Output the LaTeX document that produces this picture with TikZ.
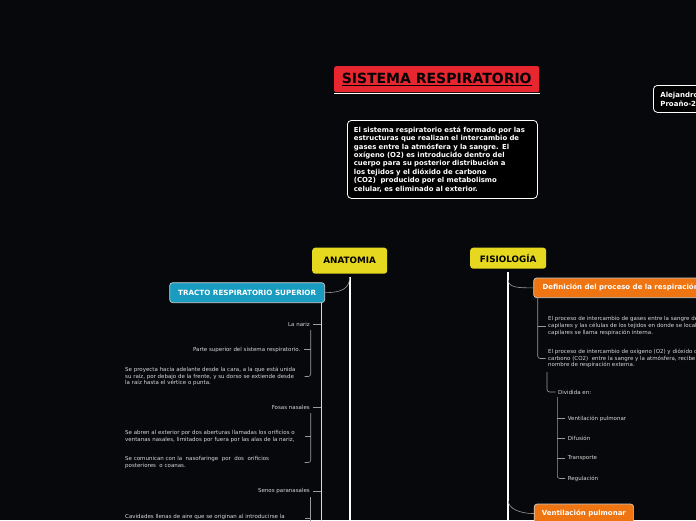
\documentclass[tikz,border=0pt]{standalone}
\usepackage{fontspec}
\setmainfont{DejaVu Sans}
\usetikzlibrary{calc}
\definecolor{bg}{HTML}{07080B}
\definecolor{titlered}{HTML}{E8262F}
\definecolor{topicyellow}{HTML}{E6D81E}
\definecolor{tractocyan}{HTML}{1A9CC0}
\definecolor{fisorange}{HTML}{EE7511}
\definecolor{linegrey}{HTML}{9A9A9A}
\definecolor{txtgrey}{HTML}{D8D8D8}
\begin{document}
\begin{tikzpicture}[x=1pt,y=-1pt,
  mainline/.style={draw=white, line width=2.2pt},
  midline/.style={draw=white!85!black, line width=0.9pt},
  subline/.style={draw=linegrey, line width=0.6pt},
  smalltxt/.style={font=\fontsize{5.5}{6.7}\selectfont, text=txtgrey, inner sep=0pt, align=left},
  topicbox/.style={fill=topicyellow, rounded corners=3pt, inner sep=0pt, font=\bfseries\fontsize{8.8}{10}\selectfont, text=black, anchor=north west},
  subbox/.style={draw=white!80!black, line width=0.7pt, rounded corners=3pt, inner ysep=0pt, text=white, anchor=north west},
  darkbox/.style={draw=white, line width=0.8pt, fill=black, rounded corners=4pt, anchor=north west, align=left, text=white, inner ysep=0pt},
]
\useasboundingbox (0,0) rectangle (696,520);
\fill[bg] (0,0) rectangle (696,520);
\clip (0,0) rectangle (696,520);
\coordinate (bottom) at (0,530);

% title
\node[fill=titlered, rounded corners=2pt, minimum width=205pt, minimum height=26pt, inner sep=0pt, anchor=north west, font=\bfseries\fontsize{14}{16}\selectfont] (title) at (334,66) {\underline{SISTEMA RESPIRATORIO}};
\draw[white, line width=1pt] ([yshift=-1.5pt]title.south west) -- ([yshift=-1.5pt,xshift=1pt]title.south east);

% description
\node[darkbox, minimum width=190pt, minimum height=78pt, text width=177pt, inner xsep=6.5pt, font=\bfseries\fontsize{6.9}{8.4}\selectfont] (desc) at (347,120) {El sistema respiratorio está formado por las\\estructuras que realizan el intercambio de\\gases entre la atmósfera y la sangre. El\\oxígeno (O2) es introducido dentro del\\\makebox[162pt][s]{cuerpo para su posterior distribución a}\\\makebox[153pt][s]{los tejidos y el dióxido de carbono}\\(CO2)\ \ producido por el metabolismo\\celular, es eliminado al exterior.};

% author
\node[darkbox, minimum width=70pt, minimum height=27pt, text width=56pt, inner xsep=7pt, font=\bfseries\fontsize{7}{9}\selectfont] (autor) at (653,85) {Alejandro\\Proaño-2};

% topics
\node[topicbox, minimum width=75pt, minimum height=26pt] (ana) at (312,247.5) {ANATOMIA};
\node[topicbox, minimum width=76pt, minimum height=21pt] (fis) at (470,247.5) {FISIOLOGÍA};
\draw[mainline] ([yshift=-3pt]ana.south) -- (ana.south |- bottom);
\draw[mainline] ([yshift=-3pt]fis.south) -- (fis.south |- bottom);

% ---------------- ANATOMIA branch
\node[subbox, fill=tractocyan, minimum width=155pt, minimum height=20pt, inner xsep=0pt, font=\bfseries\fontsize{7.2}{8}\selectfont] (tracto) at (169.3,282.3) {TRACTO RESPIRATORIO SUPERIOR};
\draw[subline] ([yshift=-3pt]ana.south) .. controls +(0,12) and +(16,0) .. (tracto.east);
\coordinate (tv) at ([xshift=-3.6pt]tracto.south east);
\draw[midline] (tv) -- (tv |- bottom);

% La nariz
\node[smalltxt, anchor=east] (nariz) at (310,324.5) {La nariz};
\draw[subline] (tv |- nariz.east) -- ([xshift=2.5pt]nariz.east);
\coordinate (nv) at (310.7,330);
\node[smalltxt, anchor=east] (parte) at (300.5,349.5) {Parte superior del sistema respiratorio.};
\node[smalltxt, anchor=west] (proyecta) at (125,376.5) {Se proyecta hacia adelante desde la cara, a la que está unida\\su raíz, por debajo de la frente, y su dorso se extiende desde\\la raíz hasta el vértice o punta.};
\draw[subline] (nv |- parte.east) -- ([xshift=3.5pt]parte.east);
\draw[subline, rounded corners=2.5pt] (nv) |- ($(nv |- proyecta.east)+(-6,0)$);

% Fosas nasales
\node[smalltxt, anchor=east] (fosas) at (310,407.3) {Fosas nasales};
\draw[subline] (tv |- fosas.east) -- ([xshift=3pt]fosas.east);
\coordinate (fv) at (310.7,413);
\node[smalltxt, anchor=west] (abren) at (125,436.5) {Se abren al exterior por dos aberturas llamadas los orificios o\\ventanas nasales, limitados por fuera por las alas de la nariz,};
\node[smalltxt, anchor=west] (comunican) at (125,462.5) {Se comunican con la\ \ nasofaringe\ \ por\ \ dos\ \ orificios\\posteriores\ \ o coanas.};
\draw[subline] (fv |- abren.east) -- ($(fv |- abren.east)+(-6,0)$);
\draw[subline, rounded corners=2.5pt] (fv) |- ($(fv |- comunican.east)+(-6,0)$);

% Senos paranasales
\node[smalltxt, anchor=east] (senos) at (310,491) {Senos paranasales};
\draw[subline] (tv |- senos.east) -- ([xshift=3pt]senos.east);
\coordinate (sv) at (310.7,497);
\draw[subline] (sv) -- (sv |- bottom);
\node[smalltxt, anchor=west] (cavidades) at (125,517.3) {Cavidades llenas de aire que se originan al introducirse la};
\draw[subline] ($(sv |- cavidades.east)+(0,1)$) -- ($(sv |- cavidades.east)+(-6,1)$);

% ---------------- FISIOLOGIA branch
\node[subbox, fill=fisorange, minimum height=19.6pt, inner xsep=9pt, font=\bfseries\fontsize{7}{8}\selectfont] (def) at (533.3,277.7) {Definición del proceso de la respiración};
\draw[subline] ([yshift=-11pt]fis.south) .. controls +(0,8) and +(-14,0) .. (def.west);
\coordinate (dv) at ([xshift=4.4pt]def.south west);
\node[smalltxt, anchor=west] (interna) at (548,325.8) {El proceso de intercambio de gases entre la sangre de los\\capilares y las células de los tejidos en donde se localizan los\\capilares se llama respiración interna.};
\node[smalltxt, anchor=west] (externa) at (548,358.5) {El proceso de intercambio de oxígeno (O2) y dióxido de\\carbono (CO2)\ \ entre la sangre y la atmósfera, recibe el\\nombre de respiración externa.};
\draw[subline] (dv |- interna.west) -- ([xshift=-2.5pt]interna.west);
\draw[subline, rounded corners=2.5pt] (dv) |- ([xshift=-2.5pt]externa.west);

\coordinate (xv) at (547,372);
\node[smalltxt, anchor=west] (dividida) at (558,392) {Dividida en:};
\draw[subline, rounded corners=2.5pt] (xv) |- ([xshift=-2.5pt]dividida.west);

\coordinate (dvv) at (557.3,397);
\node[smalltxt, anchor=west] (ventil) at (567.7,418.5) {Ventilación pulmonar};
\node[smalltxt, anchor=west] (difus) at (567.7,438.5) {Difusión};
\node[smalltxt, anchor=west] (transp) at (567.7,458.5) {Transporte};
\node[smalltxt, anchor=west] (regul) at (567.7,478.5) {Regulación};
\draw[subline] (dvv |- ventil.west) -- ([xshift=-2.5pt]ventil.west);
\draw[subline] (dvv |- difus.west) -- ([xshift=-2.5pt]difus.west);
\draw[subline] (dvv |- transp.west) -- ([xshift=-2.5pt]transp.west);
\draw[subline, rounded corners=2.5pt] (dvv) |- ([xshift=-2.5pt]regul.west);

\node[subbox, fill=fisorange, minimum height=19pt, inner xsep=7.7pt, font=\bfseries\fontsize{7}{8}\selectfont] (ventbox) at (533.8,503.7) {Ventilación pulmonar};
\draw[subline] ($(fis.south |- ventbox.west)+(0,-13)$) .. controls +(0,8) and +(-14,0) .. (ventbox.west);
\end{tikzpicture}
\end{document}
